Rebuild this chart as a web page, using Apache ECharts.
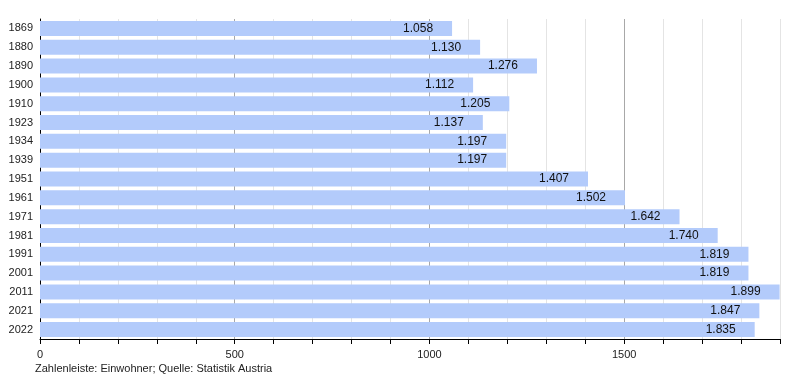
<!DOCTYPE html>
<html>
<head>
<meta charset="utf-8">
<script src="https://cdn.jsdelivr.net/npm/echarts@6/dist/echarts.min.js"></script>
<style>html,body{margin:0;padding:0;background:#fff}#c{width:800px;height:380px}</style>
</head>
<body>
<div id="c"></div>
<script>
const years = ['1869','1880','1890','1900','1910','1923','1934','1939','1951','1961','1971','1981','1991','2001','2011','2021','2022'];
const population = [1058,1130,1276,1112,1205,1137,1197,1197,1407,1502,1642,1740,1819,1819,1899,1847,1835];
const xTickLabels = ['0','500','1000','1500'];
const footnote = 'Zahlenleiste: Einwohner; Quelle: Statistik Austria';

const fmt = v => {
  const s = String(v);
  return s.replace(/\B(?=(\d{3})+(?!\d))/g, '.');
};

const chart = echarts.init(document.getElementById('c'), null, {renderer: 'canvas'});
chart.setOption({
  animation: false,
  textStyle: {fontFamily: 'Liberation Sans, Arial, sans-serif'},
  grid: {left: 40, right: 20, top: 19, bottom: 41},
  graphic: [{
    type: 'text', left: 35, top: 363,
    style: {text: footnote, fontSize: 11, fill: '#222', fontFamily: 'Liberation Sans, Arial, sans-serif'}
  }],
  xAxis: {
    type: 'value', min: 0, max: 1900, interval: 100,
    axisLine: {show: true, lineStyle: {color: '#000', width: 1}},
    axisTick: {show: true, length: 5, lineStyle: {color: '#000'}},
    axisLabel: {
      margin: 10, fontSize: 11, color: '#222',
      formatter: v => xTickLabels.includes(String(v)) ? String(v) : ''
    },
    splitLine: {show: true, lineStyle: {color: ['#a8a8a8','#e4e4e4','#e4e4e4','#e4e4e4','#e4e4e4'], width: 1}}
  },
  yAxis: {
    type: 'category', data: years, inverse: true,
    axisLine: {show: true, lineStyle: {color: '#000', width: 1}},
    axisTick: {show: false},
    axisLabel: {fontSize: 11, color: '#222', margin: 7},
    splitLine: {show: false}
  },
  series: [{
    type: 'bar', data: population, barWidth: 15,
    itemStyle: {color: '#b3cbfb'},
    label: {
      show: true, position: 'insideRight', distance: 19,
      fontSize: 12, color: '#111',
      formatter: p => fmt(p.value)
    }
  }]
});
</script>
</body>
</html>
